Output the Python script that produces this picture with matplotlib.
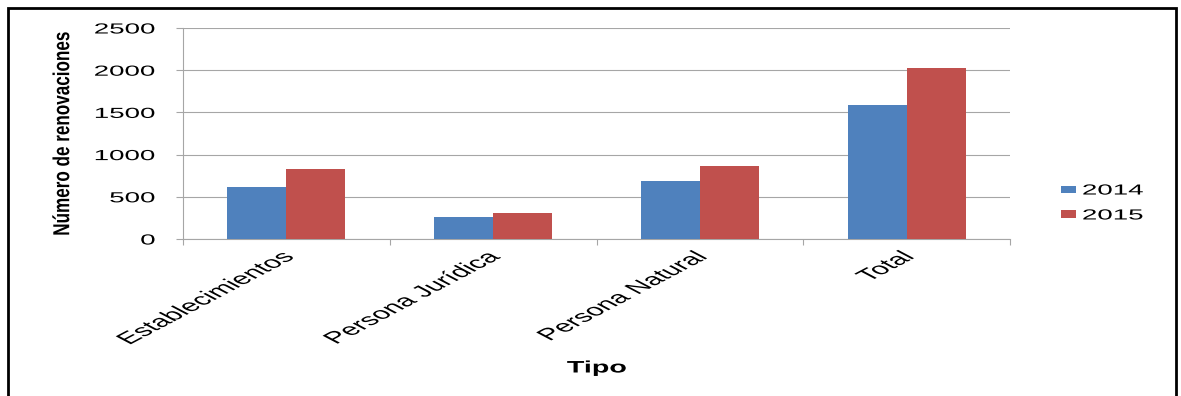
import matplotlib
matplotlib.use("Agg")
import numpy as np
import matplotlib.pyplot as plt
from matplotlib.patches import Rectangle
from matplotlib.patheffects import AbstractPathEffect
from matplotlib.path import Path
from matplotlib.transforms import Affine2D, ScaledTranslation

# Renovaciones por tipo de registro, 2014 vs 2015
categorias = ['Establecimientos', 'Persona Jurídica', 'Persona Natural', 'Total']
anios = ['2014', '2015']
renov_2014 = [618, 258, 690, 1592]
renov_2015 = [832, 310, 866, 2024]
yticks = [0, 500, 1000, 1500, 2000, 2500]

AZUL = '#4F81BD'
ROJO = '#C0504D'
GRIS = '#A6A6A6'

W, H = 1181, 396


class Estirar(AbstractPathEffect):
    """Ensancha el texto en horizontal (en pixeles) alrededor de un borde."""

    def __init__(self, sx, ancla='center'):
        super().__init__()
        self.sx = sx
        self.ancla = ancla

    def draw_path(self, renderer, gc, tpath, affine, rgbFace=None):
        v = tpath.vertices
        if tpath.codes is not None:
            v = v[tpath.codes != Path.CLOSEPOLY]
        if len(v) == 0:
            renderer.draw_path(gc, tpath, affine, rgbFace)
            return
        xs = affine.transform(v)[:, 0]
        if self.ancla == 'left':
            x0 = xs.min()
        elif self.ancla == 'right':
            x0 = xs.max()
        else:
            x0 = (xs.min() + xs.max()) / 2
        tr = affine + Affine2D().translate(-x0, 0).scale(self.sx, 1).translate(x0, 0)
        renderer.draw_path(gc, tpath, tr, rgbFace)


def main():
    plt.rcParams['font.family'] = ['Liberation Sans', 'DejaVu Sans']

    fig = plt.figure(figsize=(W / 100, H / 100), dpi=100)
    ax = fig.add_axes([183 / W, 1 - 239 / H, 827 / W, 211 / H])

    x = np.arange(len(categorias))
    w = 0.285
    ax.bar(x - w / 2, renov_2014, w, color=AZUL, label=anios[0], zorder=3)
    ax.bar(x + w / 2, renov_2015, w, color=ROJO, label=anios[1], zorder=3)

    ax.set_xlim(-0.5, len(categorias) - 0.5)
    ax.set_ylim(0, 2500)
    ax.set_yticks(yticks)
    ax.set_yticklabels([str(t) for t in yticks])
    ax.set_xticks(x)
    ax.set_xticklabels(categorias, rotation=45, ha='right', va='center',
                       rotation_mode='anchor')
    ax.set_xticks(np.arange(-0.5, len(categorias)), minor=True)

    ax.tick_params(axis='x', which='major', length=0, pad=11, labelsize=11.8)
    ax.tick_params(axis='x', which='minor', length=4.3, width=0.8, color=GRIS)
    ax.tick_params(axis='y', length=5, width=0.8, color=GRIS, pad=15, labelsize=10.5)

    ax.grid(axis='y', color=GRIS, lw=0.8)
    ax.set_axisbelow(True)
    for s in ['top', 'right']:
        ax.spines[s].set_visible(False)
    ax.spines['left'].set_color(GRIS)
    ax.spines['bottom'].set_color(GRIS)
    ax.spines['left'].set_linewidth(0.8)
    ax.spines['bottom'].set_linewidth(0.8)

    ax.set_ylabel('Número de renovaciones', fontsize=12.3, fontweight='bold')
    ax.yaxis.set_label_coords((70 - 183) / 827, 0.5)
    ax.set_xlabel('Tipo', fontsize=12, fontweight='bold')
    ax.xaxis.set_label_coords(0.5, (239 - 368) / 211)
    ax.xaxis.label.set_va('center')

    leg = fig.legend(loc='center left', bbox_to_anchor=(1061 / W, 1 - 203 / H),
                     frameon=False, fontsize=10.5, handlelength=1.03,
                     handleheight=0.42, handletextpad=0.45, labelspacing=0.75,
                     borderpad=0, borderaxespad=0)

    # texto ensanchado en horizontal
    desplaza = ScaledTranslation(5 / 100, 0, fig.dpi_scale_trans)
    for t in ax.get_yticklabels():
        t.set_path_effects([Estirar(1.9, 'right')])
    for t in ax.get_xticklabels():
        t.set_path_effects([Estirar(1.9, 'right')])
        t.set_transform(t.get_transform() + desplaza)
    for t in leg.get_texts():
        t.set_path_effects([Estirar(1.9, 'left')])
    ax.xaxis.label.set_path_effects([Estirar(1.72)])
    ax.yaxis.label.set_path_effects([Estirar(1.35)])

    # marco exterior
    fig.patches.append(Rectangle((8 / W, -0.05), (1176 - 8) / W, 1.05 - 8 / H,
                                 transform=fig.transFigure, fill=False,
                                 ec='black', lw=2))

    fig.savefig('out.png', dpi=100)
    plt.close(fig)


if __name__ == '__main__':
    main()
